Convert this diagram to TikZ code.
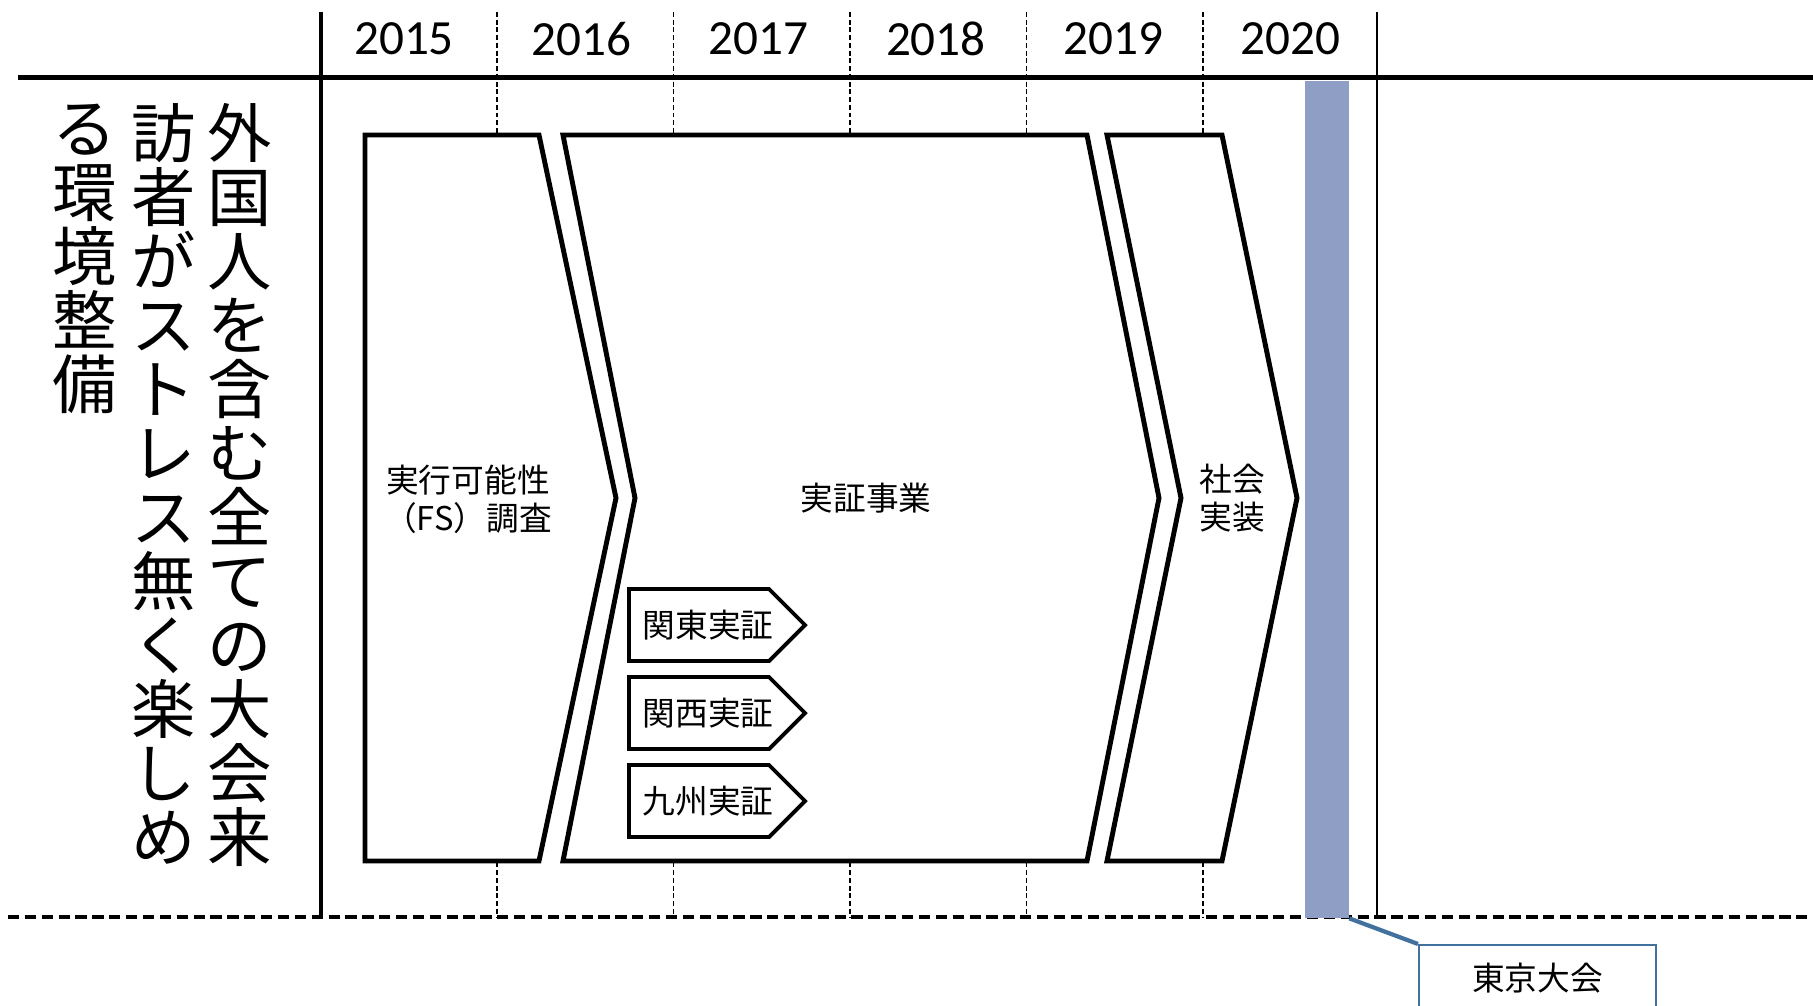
\documentclass[tikz,border=0pt]{standalone}
\usepackage{fontspec}
\setmainfont{Carlito}
\newfontfamily\jp{Noto Sans CJK JP}
\definecolor{barblue}{RGB}{143,158,196}
\definecolor{calloutblue}{RGB}{65,113,156}
\newcommand{\phasepath}[4]{(#1,135) -- (#2,135) -- (#2+#4,498) -- (#2,861) -- (#1,861) -- (#1+#3,498) -- cycle}
\newcommand{\pilot}[4]{(#1,#2-36) -- ++(140,0) -- ++(36,36) -- ++(-36,36) -- ++(-140,0) -- cycle (#1+79,#2) node[lbl] (#3) {#4}}

\begin{document}
\begin{tikzpicture}[
      x=0.1mm, y=-0.1mm,
      yearlbl/.style={font=\fontsize{14}{14}\selectfont, inner sep=0pt},
      vcol/.style={font=\jp\fontsize{18.3}{18.2}\selectfont, align=center, anchor=north, inner sep=0pt},
      lbl/.style={font=\jp\fontsize{9.3}{10.8}\selectfont, align=center, inner sep=0pt},
      yeargrid/.style={line width=0.4pt, dash pattern=on 1.4pt off 0.8pt},
      phasebox/.style={line width=1.4pt, draw=black, fill=white},
      tagbox/.style={line width=1.1pt, draw=black, fill=white},
      games/.style={fill=barblue, draw=none, inner sep=0pt, anchor=north west},
      callout/.style={draw=calloutblue, line width=0.6pt, inner sep=0pt, anchor=north west, font=\jp\fontsize{9.3}{10.8}\selectfont},
      tail/.style={draw=calloutblue, line width=1.2pt}
      ]
      \clip (0,0) rectangle (1813,1006);
      % year grid
      \foreach \i in {0,...,4}
        \draw[yeargrid] (497+176.5*\i,12) -- (497+176.5*\i,917);
      \foreach \yr [count=\i from 0] in {2015,2016,2017,2018,2019,2020}
        \node[yearlbl] (y\yr) at (404+177.3*\i,39) {\yr};
      \draw[line width=1.3pt] (18,77.5) -- (1813,77.5);
      \draw[line width=1pt] (321,12) -- (321,917);
      \draw[line width=0.6pt] (1377,12) -- (1377,917);
      \draw[line width=1pt, dash pattern=on 3.2pt off 1.6pt] (8,917) -- (1813,917);
      % goal, written top to bottom
      \node[vcol] (goal1) at (240,103) {外\\国\\人\\を\\含\\む\\全\\て\\の\\大\\会\\来};
      \node[vcol] (goal2) at (164,103) {訪\\者\\が\\ス\\ト\\レ\\ス\\無\\く\\楽\\し\\め};
      \node[vcol] (goal3) at (85,103) {る\\環\\境\\整\\備};
      % phases
      \path[phasebox] \phasepath{365}{539}{0}{77};
      \path[phasebox] \phasepath{563}{1087}{72}{72};
      \path[phasebox] \phasepath{1107}{1222}{74}{75};
      \node[lbl] (fs) at (468,499) {実行可能性\\（FS）調査};
      \node[lbl] (demo) at (866,498) {実証事業};
      \node[lbl] (deploy) at (1232,498) {社会\\実装};
      \path[tagbox] \pilot{629}{625}{kanto}{関東実証};
      \path[tagbox] \pilot{629}{713}{kansai}{関西実証};
      \path[tagbox] \pilot{629}{801}{kyushu}{九州実証};
      % games
      \node[games, minimum width=4.4mm, minimum height=83.7mm] (olympic) at (1304,80) {};
      \node[callout, minimum width=23.7mm, minimum height=6.6mm] (tokyo) at (1418,944) {東京大会};
      \path[tail] (olympic.south east) -- (tokyo.north west);
    \end{tikzpicture}
\end{document}
